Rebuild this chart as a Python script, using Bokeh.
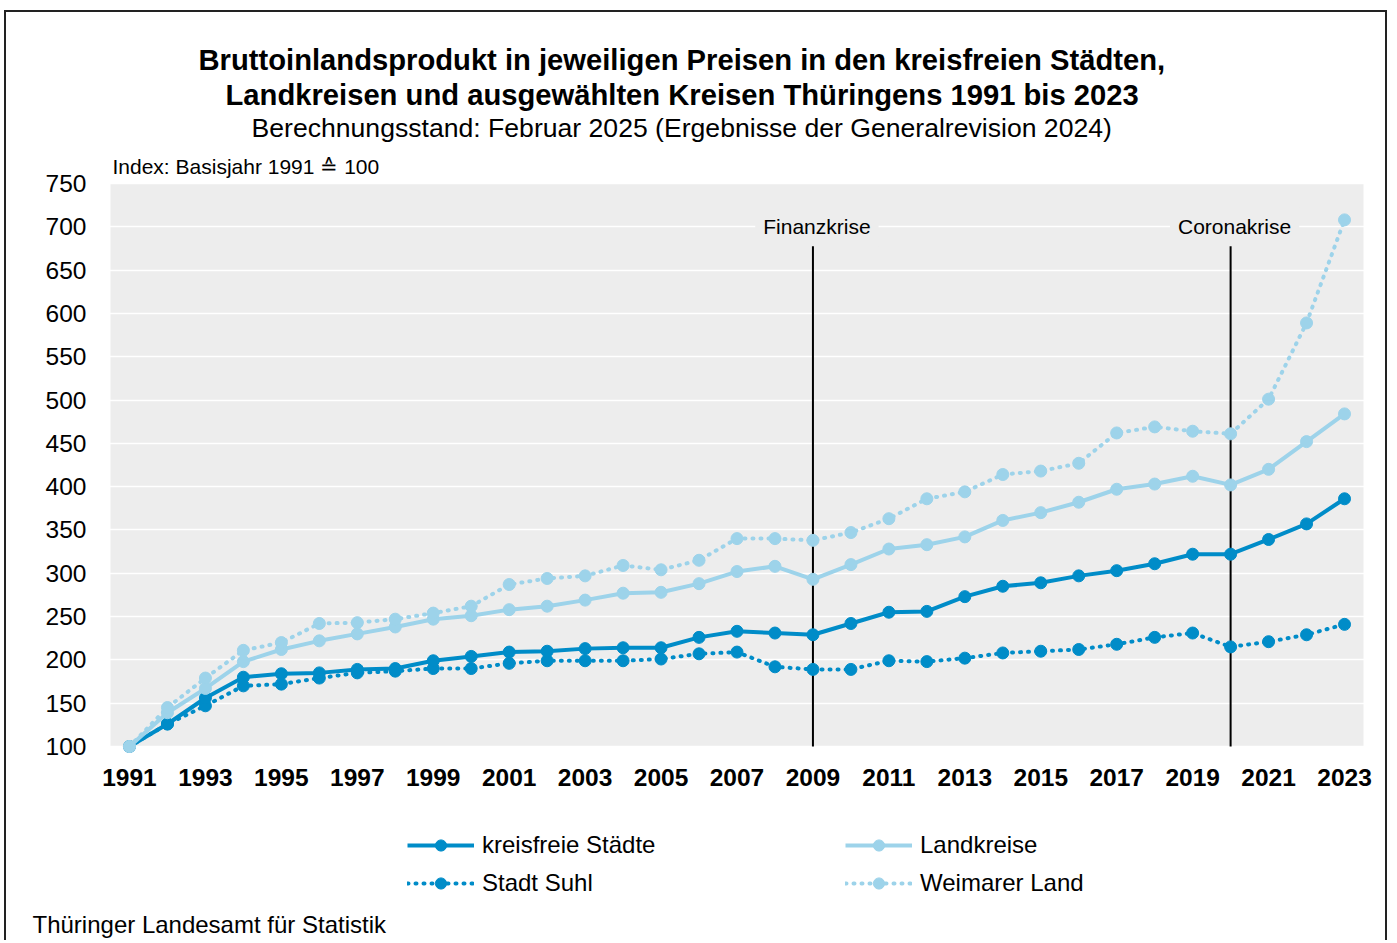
from bokeh.plotting import figure
from bokeh.models import (Range1d, FixedTicker, Label, Legend, LegendItem, Title,
                          BoxAnnotation)
from bokeh.embed import file_html
from bokeh.resources import INLINE

# ---------------- data ----------------
years = [1991, 1992, 1993, 1994, 1995, 1996, 1997, 1998, 1999, 2000, 2001,
         2002, 2003, 2004, 2005, 2006, 2007, 2008, 2009, 2010, 2011, 2012,
         2013, 2014, 2015, 2016, 2017, 2018, 2019, 2020, 2021, 2022, 2023]
tick_years = [1991, 1993, 1995, 1997, 1999, 2001, 2003, 2005, 2007, 2009,
              2011, 2013, 2015, 2017, 2019, 2021, 2023]
y_ticks = [100, 150, 200, 250, 300, 350, 400, 450, 500, 550, 600, 650, 700, 750]

kreisfreie_staedte = [100, 126, 156, 180, 184, 185, 189, 190, 199, 204, 209,
                      210, 213, 214, 214, 226, 233, 231, 229, 242, 255, 256,
                      273, 285, 289, 297, 303, 311, 322, 322, 339, 357, 386]
landkreise = [100, 139, 167, 198, 212, 222, 230, 238, 247, 251, 258,
              262, 269, 277, 278, 288, 302, 308, 293, 310, 328, 333,
              342, 361, 370, 382, 397, 403, 412, 402, 420, 452, 484]
stadt_suhl = [100, 126, 147, 170, 172, 179, 185, 187, 190, 190, 196,
              199, 199, 199, 201, 207, 209, 192, 189, 189, 199, 198,
              202, 208, 210, 212, 218, 226, 231, 215, 221, 229, 241]
weimarer_land = [100, 145, 179, 211, 220, 242, 243, 247, 254, 262, 287,
                 294, 297, 309, 304, 315, 340, 340, 338, 347, 363, 386,
                 394, 414, 418, 427, 462, 469, 464, 461, 501, 589, 708]

crisis_years = [2009, 2020]
crisis_labels = ["Finanzkrise", "Coronakrise"]

title_line1 = "Bruttoinlandsprodukt in jeweiligen Preisen in den kreisfreien Städten,"
title_line2 = "Landkreisen und ausgewählten Kreisen Thüringens 1991 bis 2023"
subtitle = "Berechnungsstand: Februar 2025 (Ergebnisse der Generalrevision 2024)"
index_note = "Index: Basisjahr 1991 \u2259 100"
source_note = "Thüringer Landesamt für Statistik"

# ---------------- layout / style ----------------
FONT = "Liberation Sans"
DARK = "#008CC8"
LIGHT = "#9DD3EA"
PLOT_BG = "#EDEDED"

W, H = 1383, 930          # canvas (page x 6..1389, y 12..942)
MB_TOP = 130              # heading panel height (frame starts at page y 142)
X0, X1 = 1990.5, 2023.5   # data area, years
Y0, Y1 = 100, 750         # data area, index
AREA_LEFT, AREA_TOP = 104, 41                 # data area offset inside frame, px
AREA_W, AREA_H = 1253, 563                    # data area size, px
px_year = AREA_W / (X1 - X0)
px_unit = AREA_H / (Y1 - Y0)
frame_h = H - MB_TOP
x_range = Range1d(X0 - AREA_LEFT / px_year, X1 + (W - AREA_LEFT - AREA_W) / px_year)
y_range = Range1d(Y1 - (frame_h - AREA_TOP) / px_unit, Y1 + AREA_TOP / px_unit)

p = figure(width=W, height=H, output_backend="svg", toolbar_location=None,
           x_range=x_range, y_range=y_range,
           min_border_left=0, min_border_right=0,
           min_border_top=MB_TOP, min_border_bottom=0)
p.styles = {"margin-top": "10px", "margin-left": "4px",
            "border-top": "2px solid #222", "border-left": "2px solid #222",
            "border-right": "2px solid #222"}
p.background_fill_color = "white"
p.border_fill_color = "white"
p.outline_line_color = None

# grey data area
p.add_layout(BoxAnnotation(left=X0, right=X1, bottom=Y0, top=Y1,
                           fill_color=PLOT_BG, fill_alpha=1, line_color=None,
                           level="image"))

p.xgrid.visible = False
p.ygrid.ticker = FixedTicker(ticks=y_ticks)
p.ygrid.bounds = (X0, X1)
p.ygrid.grid_line_color = "white"
p.ygrid.grid_line_width = 1.5

p.yaxis.fixed_location = X0
p.yaxis.ticker = FixedTicker(ticks=y_ticks)
p.yaxis.axis_line_color = None
p.yaxis.major_tick_line_color = None
p.yaxis.minor_tick_line_color = None
p.yaxis.major_tick_out = 0
p.yaxis.major_tick_in = 0
p.yaxis.major_label_standoff = 24
p.yaxis.major_label_text_font = FONT
p.yaxis.major_label_text_font_size = "24.5px"
p.yaxis.major_label_text_color = "black"

p.xaxis.fixed_location = Y0
p.xaxis.ticker = FixedTicker(ticks=tick_years)
p.xaxis.axis_line_color = None
p.xaxis.major_tick_line_color = None
p.xaxis.minor_tick_line_color = None
p.xaxis.major_tick_out = 0
p.xaxis.major_tick_in = 0
p.xaxis.major_label_standoff = 22
p.xaxis.major_label_text_font = FONT
p.xaxis.major_label_text_font_size = "24.5px"
p.xaxis.major_label_text_font_style = "bold"
p.xaxis.major_label_text_color = "black"

# ---------------- crisis markers ----------------
crisis_top = [686, 686]
crisis_base = [100, 100]
p.segment(x0=crisis_years, x1=crisis_years, y0=crisis_base, y1=crisis_top,
          line_color="black", line_width=2)
for yr, txt in zip(crisis_years, crisis_labels):
    p.add_layout(Label(x=yr, y=700, text=txt, text_align="center",
                       text_baseline="middle", x_offset=4,
                       text_font=FONT, text_font_size="21px", text_color="black",
                       background_fill_color=PLOT_BG, padding=8))

# ---------------- series ----------------
r_suhl = p.line(years, stadt_suhl, line_color=DARK, line_width=4,
                line_dash="1 7", line_cap="round")
c_suhl = p.scatter(years, stadt_suhl, size=12, color=DARK)
r_kfs = p.line(years, kreisfreie_staedte, line_color=DARK, line_width=4)
c_kfs = p.scatter(years, kreisfreie_staedte, size=12, color=DARK)
r_lk = p.line(years, landkreise, line_color=LIGHT, line_width=4)
c_lk = p.scatter(years, landkreise, size=12, color=LIGHT)
r_wl = p.line(years, weimarer_land, line_color=LIGHT, line_width=4,
              line_dash="1 7", line_cap="round")
c_wl = p.scatter(years, weimarer_land, size=12, color=LIGHT)

# ---------------- legend (two rows, below the data area) ----------------
def make_legend(items, loc):
    return Legend(items=items, orientation="horizontal", location=loc,
                  glyph_width=67, glyph_height=28, label_width=353,
                  label_height=28, label_standoff=8, spacing=10, padding=0,
                  margin=0, border_line_color=None, background_fill_alpha=0,
                  label_text_font=FONT, label_text_font_size="24px",
                  label_text_color="black")

p.add_layout(make_legend(
    [LegendItem(label="kreisfreie Städte", renderers=[r_kfs, c_kfs]),
     LegendItem(label="Landkreise", renderers=[r_lk, c_lk])], (401, 83)))
p.add_layout(make_legend(
    [LegendItem(label="Stadt Suhl", renderers=[r_suhl, c_suhl]),
     LegendItem(label="Weimarer Land", renderers=[r_wl, c_wl])], (401, 45)))

# ---------------- texts inside the frame (screen units) ----------------
def screen_text(x, y, text, size):
    p.add_layout(Label(x=x, y=y, x_units="screen", y_units="screen",
                       text=text, text_align="left", text_baseline="middle",
                       text_font=FONT, text_font_size=size, text_color="black"))

screen_text(106, 776, index_note, "21px")
screen_text(26, 18, source_note, "24px")

# ---------------- headings (stacked from the frame outward) ----------------
def heading(text, size, bold, offset, standoff):
    p.add_layout(Title(text=text, align="left", offset=offset, standoff=standoff,
                       text_font=FONT, text_font_size=size,
                       text_font_style="bold" if bold else "normal",
                       text_color="black"), "above")

heading(subtitle, "26.6px", False, 245, 0)
heading(title_line2, "29.2px", True, 219, 0)
heading(title_line1, "29.2px", True, 192, 2)

open("out.html", "w").write(file_html(p, INLINE))
